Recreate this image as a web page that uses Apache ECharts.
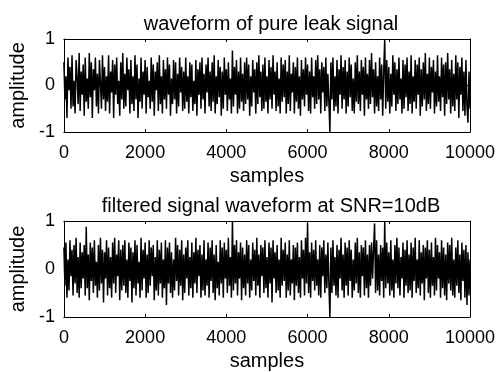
<!DOCTYPE html>
<html><head><meta charset="utf-8">
<script src="https://cdn.jsdelivr.net/npm/echarts@6/dist/echarts.min.js"></script>
<style>html,body{margin:0;padding:0;background:#fff}#c{width:499px;height:372px}</style>
</head><body><div id="c"></div>
<script>
const sampleStep = 25;
const xTicks = [0, 2000, 4000, 6000, 8000, 10000];
const yTicks = [-1, 0, 1];
const titles = ['waveform of pure leak signal', 'filtered signal waveform at SNR=10dB'];
const xLabel = 'samples';
const yLabel = 'amplitude';

const pureLeak = [
0.5,-0.3,0.2,-0.7,0.6,-0.1,0.4,-0.5,0.65,-0.45,0.1,-0.6,0.55,0.2,-0.4,0.7,-0.55,0.3,-0.2,0.45,
-0.65,0.6,-0.35,0.15,-0.5,0.7,-0.25,0.5,-0.7,0.35,-0.1,0.6,-0.45,0.25,-0.6,0.55,0.05,-0.5,0.65,-0.3,
0.4,-0.55,0.2,-0.35,0.65,-0.6,0.3,-0.15,0.55,-0.7,0.45,-0.2,0.6,-0.4,0.1,-0.65,0.5,-0.3,0.7,-0.5,
0.25,-0.45,0.6,-0.1,0.35,-0.6,0.55,-0.4,0.2,-0.55,0.65,-0.3,0.45,-0.7,0.15,-0.35,0.6,-0.5,0.3,-0.2,
0.55,-0.6,0.4,-0.25,0.1,-0.5,0.6,-0.35,0.45,-0.65,0.3,-0.1,0.5,-0.55,0.65,-0.4,0.2,-0.6,0.55,-0.3,
0.35,-0.5,0.6,-0.2,0.45,-0.65,0.15,-0.4,0.55,-0.3,0.5,-0.6,0.25,-0.45,0.6,-0.15,0.4,-0.55,0.3,-0.5,
0.6,-0.35,0.2,-0.6,0.5,-0.25,0.45,-0.55,0.1,-0.4,0.55,-0.65,0.35,-0.2,0.5,-0.5,0.6,-0.3,0.25,-0.6,
0.45,-0.15,0.6,-0.45,0.3,-0.55,0.5,-0.35,0.65,-0.6,0.2,-0.4,0.55,-0.25,0.4,-0.65,0.3,-0.5,0.6,-0.2,
0.35,-0.55,0.5,-0.3,0.15,-0.6,0.75,-0.45,0.4,-0.2,0.55,-0.6,0.3,-0.5,0.6,-0.35,0.25,-0.55,0.5,-0.4,
0.6,-0.3,0.45,-0.65,0.2,-0.45,0.55,-0.15,0.35,-0.6,0.5,-0.4,0.65,-0.25,0.3,-0.55,0.45,-0.5,0.6,-0.35,
0.2,-0.6,0.55,-0.3,0.4,-0.5,0.65,-0.2,0.3,-0.55,0.5,-0.45,0.15,-0.6,0.6,-0.35,0.45,-0.25,0.55,-0.6,
0.3,-0.4,0.65,-0.55,0.25,-0.15,0.5,-0.6,0.4,-0.35,0.6,-0.5,0.2,-0.65,0.55,-0.3,0.35,-0.45,0.6,-0.2,
0.45,-0.55,0.3,-0.6,0.6,-0.25,0.2,-0.5,0.55,-0.4,0.65,-0.3,0.35,-0.6,0.5,-0.15,0.4,-0.55,0.6,-0.45,
0.25,-0.35,-1.0,0.5,-0.3,0.6,-0.55,0.2,-0.45,0.55,-0.6,0.35,-0.2,0.65,-0.5,0.4,-0.3,0.55,-0.6,0.3,
-0.45,0.6,-0.25,0.45,-0.55,0.15,-0.6,0.5,-0.35,0.65,-0.4,0.3,-0.55,0.55,-0.2,0.4,-0.65,0.6,-0.3,0.25,
-0.5,0.55,-0.4,0.7,-0.25,0.35,-0.6,0.5,-0.45,0.2,-0.55,0.6,-0.3,0.45,-0.65,0.3,1.0,-0.5,0.55,-0.35,
0.4,-0.6,0.25,-0.45,0.65,-0.2,0.5,-0.55,0.35,-0.4,0.6,-0.3,0.15,-0.6,0.55,-0.5,0.45,-0.25,0.6,-0.55,
0.3,-0.4,0.65,-0.6,0.2,-0.35,0.55,-0.5,0.45,-0.2,0.6,-0.65,0.35,-0.45,0.5,-0.3,0.7,-0.55,0.25,-0.4,
0.6,-0.5,0.4,-0.15,0.55,-0.6,0.3,-0.45,0.65,-0.35,0.2,-0.55,0.6,-0.25,0.45,-0.65,0.5,-0.4,0.7,-0.3,
0.35,-0.6,0.55,-0.45,0.25,-0.55,0.65,-0.3,0.5,-0.7,0.4,-0.2,0.6,-0.55,0.3,-0.65,0.55,-0.45,-0.8,0.3,
-0.5];

const filtered = [
0.45,-0.35,0.55,-0.6,0.2,-0.45,0.6,-0.15,0.4,-0.55,0.5,-0.3,0.65,-0.5,0.25,-0.6,0.55,-0.4,0.35,-0.2,
0.5,-0.55,0.88,-0.4,0.3,-0.65,0.55,-0.25,0.45,-0.5,0.6,-0.35,0.15,-0.6,0.5,-0.45,0.65,-0.3,0.4,-0.7,
0.35,-0.2,0.6,-0.55,0.45,-0.4,0.25,-0.6,0.55,-0.3,0.65,-0.5,0.3,-0.15,0.6,-0.65,0.4,-0.45,0.5,-0.35,
0.6,-0.5,0.2,-0.6,0.55,-0.25,0.45,-0.7,0.35,-0.4,0.6,-0.55,0.5,-0.3,0.15,-0.6,0.65,-0.45,0.4,-0.2,
0.55,-0.6,0.3,-0.5,0.6,-0.35,0.45,-0.15,0.5,-0.65,0.25,-0.45,0.6,-0.55,0.4,-0.3,0.55,-0.6,0.2,-0.4,
0.6,-0.75,0.45,-0.3,0.55,-0.5,0.35,-0.6,0.2,-0.45,0.65,-0.25,0.5,-0.55,0.4,-0.35,0.6,-0.65,0.3,-0.5,
0.45,-0.2,0.6,-0.55,0.25,-0.4,0.55,-0.6,0.35,-0.3,0.65,-0.5,0.4,-0.15,0.5,-0.6,0.3,-0.45,0.6,-0.55,
0.2,-0.35,0.55,-0.6,0.45,-0.25,0.6,-0.5,0.3,-0.65,0.5,-0.4,0.15,-0.55,0.6,-0.3,0.45,-0.6,0.55,-0.2,
0.4,-0.5,0.65,-0.35,0.25,-0.6,1.0,-0.45,0.5,-0.3,0.6,-0.55,0.35,-0.2,0.55,-0.65,0.45,-0.4,0.3,-0.55,
0.6,-0.3,0.5,-0.6,0.2,-0.45,0.55,-0.25,0.4,-0.55,0.65,-0.35,0.3,-0.6,0.5,-0.15,0.45,-0.5,0.6,-0.4,
0.25,-0.6,0.55,-0.3,0.45,-0.7,0.6,-0.2,0.35,-0.5,0.5,-0.45,0.2,-0.6,0.65,-0.35,0.4,-0.25,0.55,-0.6,
0.3,-0.45,0.6,-0.55,0.2,-0.3,0.5,-0.65,0.45,-0.35,0.55,-0.5,0.25,-0.6,0.6,-0.2,0.4,-0.55,0.65,-0.3,
0.95,-0.5,0.35,-0.6,0.55,-0.25,0.4,-0.45,0.6,-0.35,0.2,-0.55,0.5,-0.6,0.45,-0.15,0.6,-0.5,0.3,-0.4,
0.55,-0.3,-1.0,0.45,-0.5,0.6,-0.35,0.25,-0.55,0.5,-0.6,0.4,-0.2,0.65,-0.45,0.3,-0.6,0.55,-0.35,0.45,
-0.55,0.6,-0.25,0.4,-0.6,0.2,-0.45,0.55,-0.3,0.65,-0.5,0.35,-0.6,0.5,-0.15,0.45,-0.55,0.6,-0.4,0.3,
-0.6,0.5,-0.35,0.55,-0.2,0.4,0.95,-0.5,0.6,-0.45,0.3,-0.55,0.5,-0.25,0.45,-0.6,1.0,-0.4,0.55,-0.3,
0.35,-0.55,0.6,-0.45,0.2,-0.6,0.5,-0.3,0.65,-0.4,0.45,-0.55,0.25,-0.2,0.55,-0.6,0.4,-0.35,0.6,-0.5,
0.3,-0.45,0.55,-0.6,0.45,-0.25,0.65,-0.5,0.2,-0.4,0.6,-0.55,0.35,-0.3,0.5,-0.65,0.45,-0.2,0.6,-0.5,
0.4,-0.6,0.55,-0.35,0.25,-0.55,0.65,-0.45,0.5,-0.2,0.35,-0.6,0.6,-0.4,0.45,-0.55,0.3,-0.65,0.55,-0.3,
0.5,-0.45,0.65,-0.55,0.2,-0.6,0.45,-0.35,0.6,-0.5,0.3,-0.65,0.55,-0.25,0.4,-0.6,0.5,-0.75,0.35,-0.55,
0.2];

const FONT = 'Liberation Sans, Arial, sans-serif';
const FS = 18;
const FST = 20;
const grids = [
  {left: 62, top: 39, width: 408, height: 93},
  {left: 62, top: 221, width: 408, height: 96}
];
const series = [pureLeak, filtered];

const xAxes = [], yAxes = [], ser = [], titleArr = [];
grids.forEach((g, i) => {
  const base = {
    gridIndex: i, type: 'value', min: xTicks[0], max: xTicks[xTicks.length - 1], interval: 2000,
    axisLine: {show: true, onZero: false, lineStyle: {color: '#000', width: 1}},
    axisTick: {show: true, inside: true, length: 3, lineStyle: {color: '#000'}},
    splitLine: {show: false}
  };
  xAxes.push(Object.assign({}, base, {
    position: 'bottom',
    axisLabel: {show: true, color: '#000', fontFamily: FONT, fontSize: FS, margin: 12,
      formatter: v => String(v)},
    name: xLabel, nameLocation: 'middle', nameGap: 34,
    nameTextStyle: {color: '#000', fontFamily: FONT, fontSize: FST}
  }));
  xAxes.push(Object.assign({}, base, {position: 'top', axisLabel: {show: false}}));
  const ybase = {
    gridIndex: i, type: 'value', min: -1, max: 1, interval: 1,
    axisLine: {show: true, onZero: false, lineStyle: {color: '#000', width: 1}},
    axisTick: {show: true, inside: true, length: 3, lineStyle: {color: '#000'}},
    splitLine: {show: false}
  };
  yAxes.push(Object.assign({}, ybase, {
    position: 'left',
    axisLabel: {show: true, color: '#000', fontFamily: FONT, fontSize: FS, margin: 9,
      formatter: v => String(v)},
    name: yLabel, nameLocation: 'middle', nameGap: 35, nameRotate: 90,
    nameTextStyle: {color: '#000', fontFamily: FONT, fontSize: FST}
  }));
  yAxes.push(Object.assign({}, ybase, {position: 'right', axisLabel: {show: false}}));
  ser.push({
    type: 'line', xAxisIndex: i * 2, yAxisIndex: i * 2, showSymbol: false, animation: false,
    sampling: null,
    lineStyle: {color: '#000', width: 1.5}, z: 1,
    data: series[i].map((v, k) => [k * sampleStep, v])
  });
  titleArr.push({
    text: titles[i], left: g.left + g.width / 2, textAlign: 'center',
    top: g.top - 30,
    textStyle: {color: '#000', fontFamily: FONT, fontSize: FST, fontWeight: 'normal'}
  });
});

const chart = echarts.init(document.getElementById('c'), null, {renderer: 'canvas'});
chart.setOption({
  animation: false,
  backgroundColor: '#fff',
  title: titleArr,
  grid: grids,
  xAxis: xAxes,
  yAxis: yAxes,
  series: ser
});
</script></body></html>
